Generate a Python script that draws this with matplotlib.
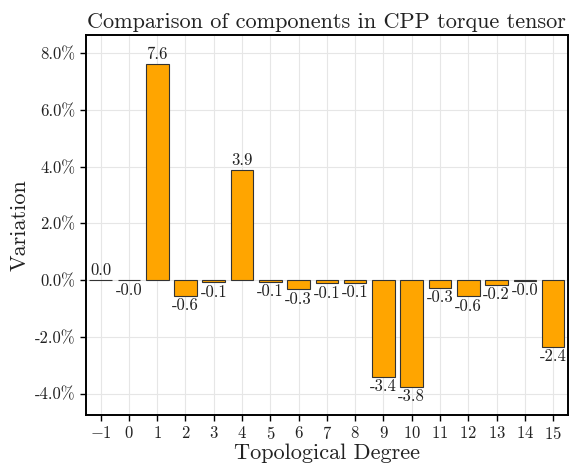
import matplotlib
matplotlib.use("Agg")
import matplotlib.pyplot as plt
from matplotlib.ticker import FuncFormatter

plt.rcParams['font.family'] = 'serif'
plt.rcParams['font.serif'] = ['cmr10']
plt.rcParams['mathtext.fontset'] = 'cm'
plt.rcParams['axes.formatter.use_mathtext'] = True
plt.rcParams['axes.unicode_minus'] = False
plt.rcParams['text.color'] = '#222222'
plt.rcParams['xtick.labelcolor'] = '#222222'
plt.rcParams['ytick.labelcolor'] = '#222222'
plt.rcParams['axes.labelcolor'] = '#222222'

degrees = [-1, 0, 1, 2, 3, 4, 5, 6, 7, 8, 9, 10, 11, 12, 13, 14, 15]
variation = [0.01, -0.01, 7.61, -0.56, -0.08, 3.89, -0.07, -0.32, -0.11, -0.10,
             -3.40, -3.76, -0.28, -0.57, -0.16, -0.02, -2.36]

fig = plt.figure(figsize=(5.69, 4.65), dpi=100)
ax = fig.add_axes([0.151, 0.108, 0.847, 0.817])
ax.set_axisbelow(True)
ax.grid(True, color='#e6e6e6', linewidth=0.8)
bars = ax.bar(degrees, variation, width=0.8, color='orange', edgecolor='#333333', linewidth=0.8)
ax.bar_label(bars, fmt='%.1f', fontsize=12, padding=1.5)

ax.set_xlim(-1.52, 15.52)
ax.set_ylim(-4.75, 8.65)
ax.set_xticks(degrees)
ax.set_yticks([-4, -2, 0, 2, 4, 6, 8])
ax.yaxis.set_major_formatter(FuncFormatter(lambda v, p: f"{v:.1f}%"))
ax.tick_params(labelsize=12, direction='out', length=4, width=1)
for s in ax.spines.values():
    s.set_linewidth(1.4)
ax.set_xlabel('Topological Degree', fontsize=16, labelpad=1)
ax.set_ylabel('Variation', fontsize=16)
ax.set_title('Comparison of components in CPP torque tensor', fontsize=16, pad=5)

fig.savefig('out.png', dpi=100)
